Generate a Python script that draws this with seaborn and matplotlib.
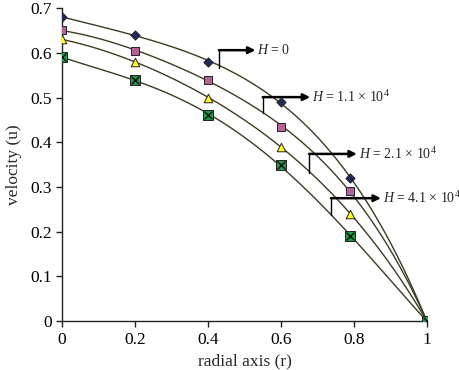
import numpy as np
import pandas as pd
import matplotlib
matplotlib.use("Agg")
import matplotlib.pyplot as plt
import seaborn as sns

r = [0, 0.2, 0.4, 0.6, 0.79, 1.0]
u_h0 = [0.68, 0.64, 0.58, 0.49, 0.32, 0.0]
u_h11 = [0.65, 0.605, 0.54, 0.435, 0.29, 0.0]
u_h21 = [0.63, 0.58, 0.50, 0.39, 0.24, 0.0]
u_h41 = [0.59, 0.54, 0.46, 0.35, 0.19, 0.0]

labels = ["$H$ = 0", "$H$ = 1.1 × 10$^4$", "$H$ = 2.1 × 10$^4$", "$H$ = 4.1 × 10$^4$"]
xticks = [0, 0.2, 0.4, 0.6, 0.8, 1]
xticklabels = ["0", "0.2", "0.4", "0.6", "0.8", "1"]
yticks = [0, 0.1, 0.2, 0.3, 0.4, 0.5, 0.6, 0.7]
yticklabels = ["0", "0.1", "0.2", "0.3", "0.4", "0.5", "0.6", "0.7"]

sns.set_style("ticks")
plt.rcParams['font.family'] = ['Liberation Serif', 'DejaVu Serif']
plt.rcParams['mathtext.fontset'] = 'custom'
plt.rcParams['mathtext.it'] = 'Liberation Serif:italic'
plt.rcParams['mathtext.rm'] = 'Liberation Serif'

fig = plt.figure(figsize=(4.6, 3.7), dpi=100)
ax = fig.add_axes([0.135, 0.132, 0.793, 0.846])

line_color = "#3d3b22"
series = [u_h0, u_h11, u_h21, u_h41]
styles = [
    dict(marker="D", color="#1e2b5c", s=22),
    dict(marker="s", color="#b8609a", s=26),
    dict(marker="^", color="#ffff1a", s=38),
    dict(marker="s", color="#1e9a48", s=55),
]

for ys, st in zip(series, styles):
    df = pd.DataFrame({"r": r, "u": ys})
    sns.regplot(data=df, x="r", y="u", order=4, ci=None, scatter=False, truncate=True,
                line_kws=dict(color=line_color, lw=1.0), ax=ax)
    sns.scatterplot(data=df, x="r", y="u", marker=st["marker"], color=st["color"], s=st["s"],
                    edgecolor="#222222", linewidth=0.7, ax=ax, zorder=5)
df4 = pd.DataFrame({"r": r, "u": u_h41})
sns.scatterplot(data=df4, x="r", y="u", marker="x", color="#111111", s=32, linewidth=1.0, ax=ax, zorder=6)

# annotations: (vertical x, bottom y, top y, arrow tip x)
ann = [
    (0.43, 0.566, 0.606, 0.53),
    (0.55, 0.465, 0.501, 0.68),
    (0.677, 0.331, 0.374, 0.808),
    (0.737, 0.237, 0.275, 0.874),
]
for (vx, yb, yt, tx), lab in zip(ann, labels):
    ax.plot([vx, vx], [yb, yt], color="black", lw=1.0, zorder=4)
    ax.annotate("", xy=(tx, yt), xytext=(vx, yt),
                arrowprops=dict(arrowstyle="-|>", color="black", lw=1.8, mutation_scale=10,
                                shrinkA=0, shrinkB=0), zorder=4)
    ax.text(tx + 0.005, yt, lab, fontsize=10, va="center", ha="left", clip_on=False)

ax.set_xlim(0, 1)
ax.set_ylim(0, 0.7)
ax.set_xticks(xticks)
ax.set_xticklabels(xticklabels)
ax.set_yticks(yticks)
ax.set_yticklabels(yticklabels)
ax.tick_params(labelsize=12.5, length=4, width=1, direction="out", colors="#222222")
for t in ax.get_xticklabels() + ax.get_yticklabels():
    t.set_color("black")
ax.set_xlabel("radial axis (r)", fontsize=12.5, labelpad=4)
ax.set_ylabel("velocity (u)", fontsize=12.5, labelpad=6)
sns.despine(ax=ax)
for sp in ["left", "bottom"]:
    ax.spines[sp].set_color("#222222")
    ax.spines[sp].set_linewidth(1.0)

fig.savefig("out.png", dpi=100)
